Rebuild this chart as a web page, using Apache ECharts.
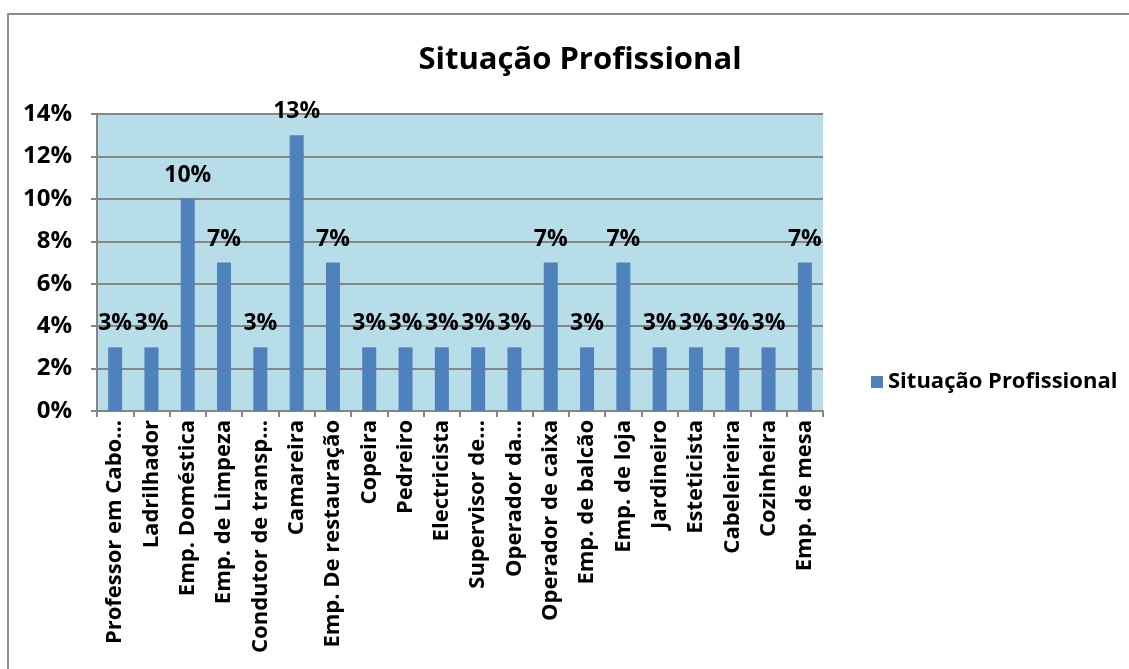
<!DOCTYPE html>
<html>
<head>
<meta charset="utf-8">
<script src="https://cdn.jsdelivr.net/npm/echarts@6/dist/echarts.min.js"></script>
<style>
html,body{margin:0;padding:0;background:#fff;}
#chart{width:1129px;height:669px;}
</style>
</head>
<body>
<div id="chart"></div>
<script>
const categories = ["Professor em Cabo…","Ladrilhador","Emp. Doméstica","Emp. de Limpeza","Condutor de transp…","Camareira","Emp. De restauração","Copeira","Pedreiro","Electricista","Supervisor de…","Operador da…","Operador de caixa","Emp. de balcão","Emp. de loja","Jardineiro","Esteticista","Cabeleireira","Cozinheira","Emp. de mesa"];
const values = [3,3,10,7,3,13,7,3,3,3,3,3,7,3,7,3,3,3,3,7];
const seriesName = "Situação Profissional";
const titleText = "Situação Profissional";

const FONT = "'Open Sans', 'Noto Sans', sans-serif";
const chart = echarts.init(document.getElementById('chart'), null, {renderer:'canvas'});
chart.setOption({
  animation:false,
  backgroundColor:'#fff',
  graphic:[{
    type:'rect', shape:{x:8,y:14,width:1140,height:680},
    style:{fill:'none',stroke:'#8c8c8c',lineWidth:2}, z:-1
  }],
  title:{
    text:titleText, left:575, top:40, textAlign:'center',
    textStyle:{fontFamily:FONT,fontWeight:'bold',fontSize:31,color:'#000'}
  },
  legend:{
    left:866, top:366, itemWidth:12, itemHeight:12, icon:'rect', itemGap:8,
    textStyle:{fontFamily:FONT,fontWeight:'bold',fontSize:22,color:'#000'},
    data:[seriesName]
  },
  grid:{left:97, top:114, width:726, height:297, show:true, backgroundColor:'#B7DEE8', borderWidth:0},
  xAxis:{
    type:'category', data:categories,
    axisLine:{lineStyle:{color:'#868686',width:2}},
    axisTick:{show:true, length:6, lineStyle:{color:'#868686',width:2}},
    axisLabel:{rotate:90, interval:0, margin:9, fontFamily:FONT, fontWeight:'bold', fontSize:22, color:'#000'}
  },
  yAxis:{
    type:'value', min:0, max:14, interval:2,
    axisLine:{show:true, lineStyle:{color:'#868686',width:2}},
    axisTick:{show:true, length:6, lineStyle:{color:'#868686',width:2}},
    splitLine:{lineStyle:{color:'#868686',width:2}},
    axisLabel:{margin:25, formatter:'{value}%', fontFamily:FONT, fontWeight:'bold', fontSize:24, color:'#000'}
  },
  series:[{
    name:seriesName, type:'bar', data:values, barWidth:14,
    itemStyle:{color:'#4F81BD'},
    label:{show:true, position:'top', distance:12, formatter:'{c}%', fontFamily:FONT, fontWeight:'bold', fontSize:23, color:'#000'}
  }]
});
</script>
</body>
</html>
